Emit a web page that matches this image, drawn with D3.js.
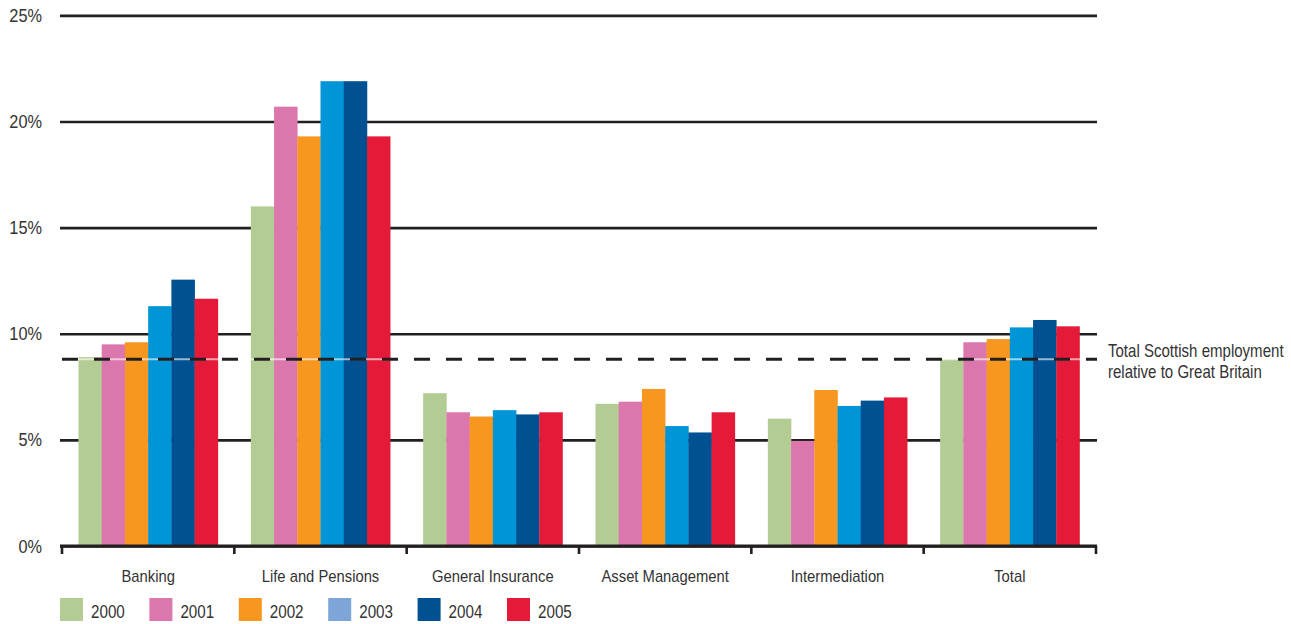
<!DOCTYPE html>
<html>
<head>
<meta charset="utf-8">
<script src="https://cdn.jsdelivr.net/npm/d3@7"></script>
<style>
  html, body { margin: 0; padding: 0; background: #fff; }
  svg { display: block; }
  text { font-family: "Liberation Sans", Arial, sans-serif; fill: #333; }
</style>
</head>
<body>
<svg id="chart" width="1291" height="624"></svg>
<script>
// Share of employment in Scotland relative to Great Britain, by sector (%)
const categories = ["Banking", "Life and Pensions", "General Insurance", "Asset Management", "Intermediation", "Total"];
const years = ["2000", "2001", "2002", "2003", "2004", "2005"];

const values2000 = [8.9, 16.0, 7.2, 6.7, 6.0, 8.8];
const values2001 = [9.5, 20.7, 6.3, 6.8, 4.95, 9.6];
const values2002 = [9.6, 19.3, 6.1, 7.4, 7.35, 9.75];
const values2003 = [11.3, 21.9, 6.4, 5.65, 6.6, 10.3];
const values2004 = [12.55, 21.9, 6.2, 5.35, 6.85, 10.65];
const values2005 = [11.65, 19.3, 6.3, 6.3, 7.0, 10.35];

const yTicks = [0, 5, 10, 15, 20, 25];
const scottishAverage = 8.8;
const averageLabel = ["Total Scottish employment", "relative to Great Britain"];

const barColors = ["#b3cc93", "#dc77ad", "#f7971f", "#0095d6", "#005192", "#e41a38"];
const legendColors = ["#b3cc93", "#dc77ad", "#f7971f", "#7ea5d8", "#005192", "#e41a38"];

const seriesValues = [values2000, values2001, values2002, values2003, values2004, values2005];
const rows = categories.map((c, i) => ({
  category: c,
  bars: years.map((yr, j) => ({ year: yr, value: seriesValues[j][i], color: barColors[j] }))
}));

const svg = d3.select("#chart");
const ink = "#231f20";

// squeeze a text selection horizontally, keeping its anchor x in place
function condense(sel, sx) {
  sel.each(function () {
    const t = d3.select(this);
    const x = +(t.attr("x") || 0);
    t.attr("x", x / sx).attr("transform", `scale(${sx},1)`);
  });
}

const y = d3.scaleLinear().domain([0, 25]).range([546, 15.4]);
const x0 = d3.scaleBand().domain(categories).range([62, 1096]).padding(0);
const x1 = d3.scaleBand().domain(years).range([0, x0.bandwidth()]).paddingInner(0).paddingOuter(0.71);

const gridLeft = 60, gridRight = 1097;

// horizontal gridlines with percentage labels
const yAxis = svg.append("g")
  .attr("transform", `translate(${gridLeft},0)`)
  .call(d3.axisLeft(y).tickValues(yTicks).tickSize(-(gridRight - gridLeft)).tickPadding(18).tickFormat(d => d + "%"));
yAxis.select(".domain").remove();
yAxis.selectAll(".tick line").attr("stroke", ink).attr("stroke-width", 2.6);
yAxis.selectAll(".tick text").attr("font-size", 19).attr("fill", "#333").attr("font-family", null)
  .call(condense, 0.86);

// bars
const groups = svg.append("g").selectAll("g")
  .data(rows).join("g")
  .attr("transform", d => `translate(${x0(d.category)},0)`);
groups.selectAll("rect")
  .data(d => d.bars).join("rect")
  .attr("x", d => x1(d.year))
  .attr("width", x1.bandwidth() + 0.3)
  .attr("y", d => y(d.value))
  .attr("height", d => y(0) - y(d.value))
  .attr("fill", d => d.color);

// Scottish average reference line
const avgY = y(scottishAverage);
svg.append("line")
  .attr("x1", 62).attr("x2", gridRight).attr("y1", avgY).attr("y2", avgY)
  .attr("stroke", "#fff").attr("stroke-opacity", 0.6).attr("stroke-width", 2.2);
svg.append("line")
  .attr("x1", 62).attr("x2", gridRight).attr("y1", avgY).attr("y2", avgY)
  .attr("stroke", ink).attr("stroke-width", 3).attr("stroke-dasharray", "16,16");

const avgText = svg.append("text")
  .attr("y", avgY - 2)
  .attr("font-size", 17.5)
  .attr("transform", `scale(${0.86},1)`);
avgText.selectAll("tspan").data(averageLabel).join("tspan")
  .attr("x", 1108 / 0.86).attr("dy", (d, i) => i === 0 ? 0 : 21)
  .text(d => d);

// baseline with category boundary ticks
svg.append("line")
  .attr("x1", gridLeft).attr("x2", gridRight).attr("y1", y(0)).attr("y2", y(0))
  .attr("stroke", ink).attr("stroke-width", 3);
const boundaries = categories.map(c => x0(c)).concat([x0.range()[1]]);
svg.append("g").selectAll("line")
  .data(boundaries).join("line")
  .attr("x1", d => d).attr("x2", d => d)
  .attr("y1", y(0)).attr("y2", y(0) + 8)
  .attr("stroke", ink).attr("stroke-width", 2.6);

// category labels
const xAxis = svg.append("g")
  .attr("transform", `translate(0,${y(0)})`)
  .call(d3.axisBottom(x0).tickSize(0).tickPadding(24));
xAxis.select(".domain").remove();
xAxis.selectAll(".tick text").attr("font-size", 17).attr("fill", "#333").attr("font-family", null)
  .call(condense, 0.87);

// legend
const legendX = d3.scaleLinear().domain([0, years.length - 1]).range([60, 507]);
const legend = svg.append("g").selectAll("g")
  .data(years).join("g")
  .attr("transform", (d, i) => `translate(${legendX(i)},598)`);
legend.append("rect")
  .attr("width", 23).attr("height", 23)
  .attr("fill", (d, i) => legendColors[i]);
legend.append("text")
  .attr("x", 31).attr("y", 20)
  .attr("font-size", 19)
  .text(d => d)
  .call(condense, 0.8);
</script>
</body>
</html>
